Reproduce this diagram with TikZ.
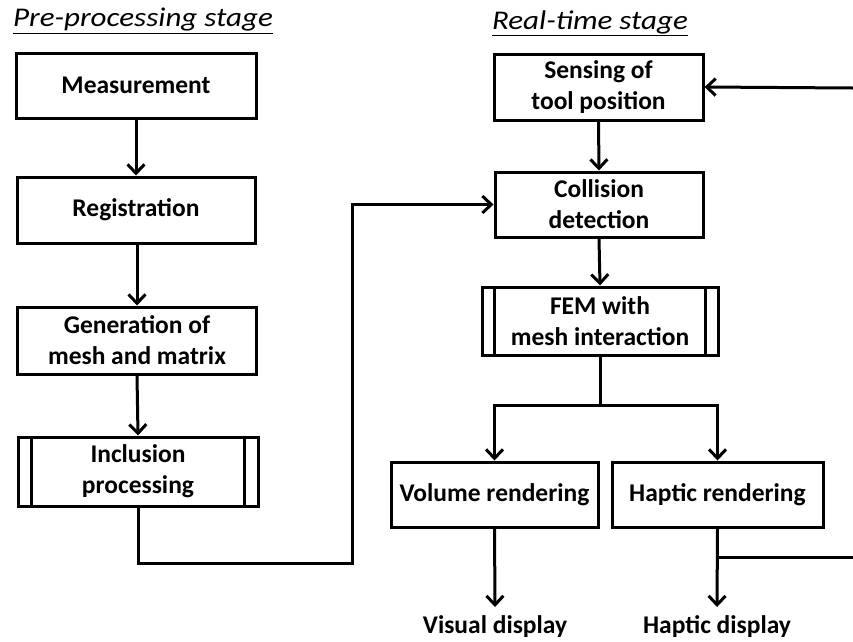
\documentclass[tikz,border=0pt]{standalone}
\usepackage{fontspec}
\setmainfont{Carlito}
\newfontfamily\ttlfont[FakeStretch=1.15]{Carlito}
\usetikzlibrary{arrows.meta,positioning,calc}
\begin{document}
\begin{tikzpicture}[x=1pt,y=-1pt,
  box/.style={draw,line width=3pt,align=center,inner sep=0pt,font=\fontsize{25.5}{31}\selectfont\bfseries},
  pbox/.style={box,append after command={
     \pgfextra{\draw[line width=3pt] ($(\tikzlastnode.north west)+(#1,0)$) -- ($(\tikzlastnode.south west)+(#1,0)$);
     \draw[line width=3pt] ($(\tikzlastnode.north east)+(-#1,0)$) -- ($(\tikzlastnode.south east)+(-#1,0)$);}}},
  lbl/.style={font=\fontsize{25.5}{31}\selectfont\bfseries,inner sep=0pt},
  ttl/.style={font=\ttlfont\fontsize{27}{32}\selectfont\itshape,inner sep=0pt},
  conn/.style={line width=3pt},
  arr/.style={conn,-{Straight Barb[length=9pt,width=17pt,line width=3pt]}}]
\useasboundingbox (0,0) rectangle (853,641);
\fill[white] (0,0) rectangle (853,641);
% titles
\node[ttl] (t1) at (143,21) {\underline{Pre-processing stage}};
\node[ttl] (t2) at (590,23) {\underline{Real-time stage}};
% left column
\node[box,minimum width=240pt,minimum height=65pt] (meas) at (136,85.5) {Measurement};
\node[box,minimum width=238pt,minimum height=66pt] (reg) at (136,210) {Registration};
\node[box,minimum width=239pt,minimum height=67pt] (gen) at (137,340.5) {Generation of\\mesh and matrix};
\node[pbox=15pt,minimum width=240pt,minimum height=69pt] (inc) at (138,471.5) {Inclusion\\processing};
% right column
\node[box,minimum width=209pt,minimum height=66pt] (sens) at (598.5,87) {Sensing of\\tool position};
\node[box,minimum width=208pt,minimum height=65pt] (coll) at (599,204.5) {Collision\\detection};
\node[pbox=14pt,minimum width=236pt,minimum height=68pt] (fem) at (600,321) {FEM with\\mesh interaction};
\node[box,minimum width=207pt,minimum height=65pt] (vol) at (494.5,494.5) {Volume rendering};
\node[box,minimum width=211pt,minimum height=65pt] (hap) at (717.5,494.5) {Haptic rendering};
\node[lbl] (vis) at (495,627) {Visual display};
\node[lbl] (hd) at (717,627) {Haptic display};
% helper coordinates
\coordinate (lc) at (352,563);
\coordinate (split) at (600,405);
\coordinate (fbB) at (853,557);
\coordinate (fbT) at (853,88);
\coordinate (vtip) at (495,607);
\coordinate (htip) at (717,607);
% connectors
\draw[arr] (meas.south) -- (reg.north);
\draw[arr] (reg.south -| gen.north) -- (gen.north);
\draw[arr] (gen.south) -- (inc.north);
\draw[arr] (inc.south) |- (lc) |- (coll.west);
\draw[arr] (sens.south) -- (coll.north);
\draw[arr] (coll.south) -- (fem.north);
\draw[conn] (fem.south) -- (split);
\draw[arr] (split) -| (vol.north);
\draw[arr] (split) -| (hap.north);
\draw[arr] (vol.south) -- (vtip);
\draw[arr] (hap.south) -- (htip);
\draw[conn] (hap.south |- fbB) -- (fbB);
\draw[arr] (fbT) -- (sens.east);
\end{tikzpicture}
\end{document}
